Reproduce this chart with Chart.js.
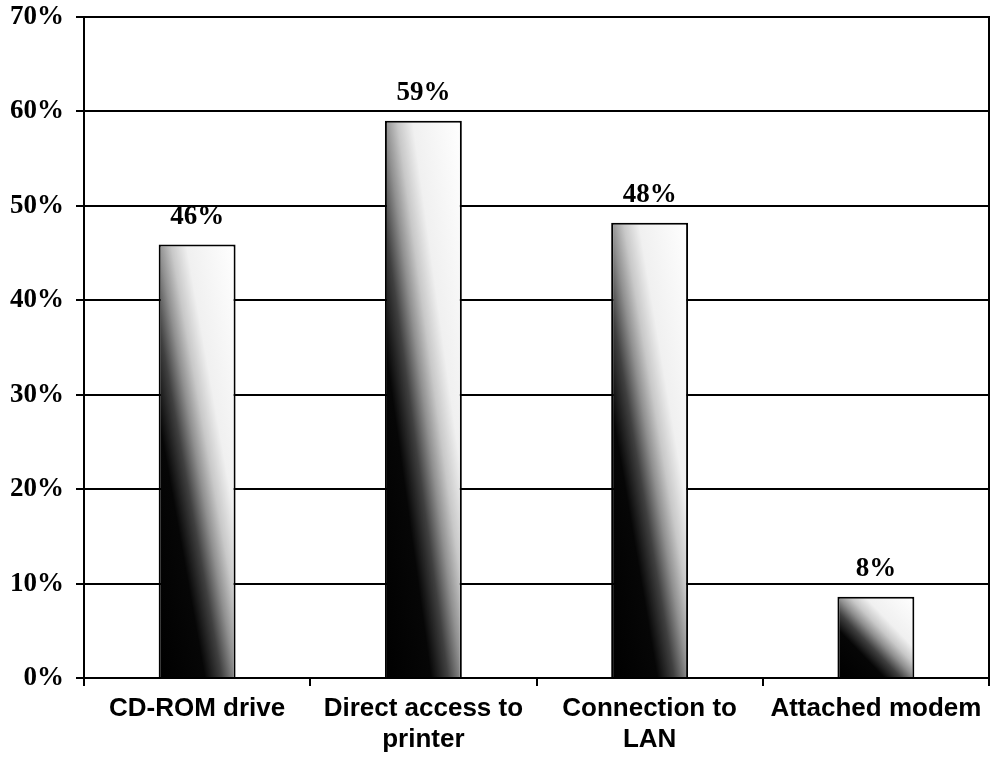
<!DOCTYPE html>
<html>
<head>
<meta charset="utf-8">
<script src="https://cdn.jsdelivr.net/npm/chart.js@4/dist/chart.umd.min.js"></script>
<style>
  html, body { margin: 0; padding: 0; background: #fff; }
  #wrap { width: 995px; height: 758px; position: relative; }
</style>
</head>
<body>
<div id="wrap"><canvas id="c"></canvas></div>
<script>
// ---- data ----
const categories = [["CD-ROM drive"], ["Direct access to", "printer"], ["Connection to", "LAN"], ["Attached modem"]];
const values = [45.9, 59.0, 48.2, 8.6];           // percent
const valueLabels = ["46%", "59%", "48%", "8%"];
const yTicks = [0, 10, 20, 30, 40, 50, 60, 70];

// per-bar diagonal gradient (dark bottom-left -> white top-right), in bar-normalised coordinates
const gradientPlugin = {
  id: 'barGradient',
  beforeDatasetsDraw(chart) {
    const ctx = chart.ctx;
    const meta = chart.getDatasetMeta(0);
    meta.data.forEach(el => {
      const L = el.x - el.width / 2, R = el.x + el.width / 2;
      const T = el.y, B = el.base;
      const W = R - L, H = B - T;
      if (!(W > 0 && H > 0)) return;
      const k = 2 / (1 / (W * W) + 1 / (H * H));
      const g = ctx.createLinearGradient(L, B, L + k / W, B - k / H);
      g.addColorStop(0.0, '#000000');
      g.addColorStop(0.30, '#060606');
      g.addColorStop(0.41, '#404040');
      g.addColorStop(0.50, '#909090');
      g.addColorStop(0.58, '#c8c8c8');
      g.addColorStop(0.68, '#f0f0f0');
      g.addColorStop(1.0, '#ffffff');
      el.options = Object.assign({}, el.options, { backgroundColor: g });
    });
  }
};

const labelPlugin = {
  id: 'valueLabels',
  afterDatasetsDraw(chart) {
    const ctx = chart.ctx;
    const meta = chart.getDatasetMeta(0);
    ctx.save();
    ctx.font = 'bold 27px "Liberation Serif", "Times New Roman", serif';
    ctx.fillStyle = '#000';
    ctx.textAlign = 'center';
    ctx.textBaseline = 'alphabetic';
    meta.data.forEach((el, i) => {
      ctx.fillText(valueLabels[i], el.x, el.y - 21);
    });
    ctx.restore();
  }
};

new Chart(document.getElementById('c'), {
  type: 'bar',
  data: {
    labels: categories,
    datasets: [{
      data: values,
      backgroundColor: '#888',
      borderColor: '#000',
      borderWidth: 2,
      categoryPercentage: 1.0,
      barPercentage: 0.34
    }]
  },
  options: {
    responsive: true,
    maintainAspectRatio: false,
    animation: false,
    layout: { padding: { top: 17, right: 5, bottom: 0, left: 0 } },
    plugins: { legend: { display: false }, tooltip: { enabled: false } },
    scales: {
      x: {
        grid: { display: true, drawOnChartArea: false, drawTicks: true, tickLength: 8, color: '#000', lineWidth: 2, offset: true },
        border: { display: true, color: '#000', width: 2 },
        ticks: {
          color: '#000', padding: 8, maxRotation: 0, autoSkip: false,
          font: { family: '"Liberation Sans", Arial, sans-serif', weight: 'bold', size: 26, lineHeight: 1.17 }
        },
        afterFit(scale) { scale.height = 80; }
      },
      y: {
        min: 0, max: 70,
        afterBuildTicks(scale) { scale.ticks = yTicks.map(v => ({ value: v })); },
        grid: { color: '#000', lineWidth: 2, drawTicks: true, tickLength: 8 },
        border: { display: true, color: '#000', width: 2 },
        ticks: {
          color: '#000', padding: 12,
          font: { family: '"Liberation Serif", "Times New Roman", serif', weight: 'bold', size: 27 },
          callback: v => v + '%'
        },
        afterFit(scale) { scale.width = 84; scale.paddingTop = 0; scale.paddingBottom = 0; }
      },
      y2: {
        position: 'right', min: 0, max: 70,
        grid: { drawOnChartArea: false, drawTicks: false },
        border: { display: true, color: '#000', width: 2 },
        ticks: { display: false },
        afterFit(scale) { scale.width = 1; scale.paddingTop = 0; scale.paddingBottom = 0; }
      }
    }
  },
  plugins: [gradientPlugin, labelPlugin]
});
</script>
</body>
</html>
